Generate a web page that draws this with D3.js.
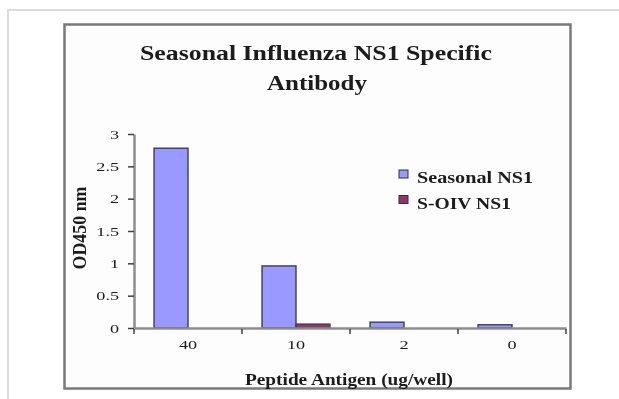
<!DOCTYPE html>
<html>
<head>
<meta charset="utf-8">
<script src="https://cdn.jsdelivr.net/npm/d3@7"></script>
<style>
  html, body { margin: 0; padding: 0; background: #ffffff; }
  svg { display: block; }
  text { font-family: "Liberation Serif", "Times New Roman", serif; fill: #1a1a1a; }
</style>
</head>
<body>
<svg id="chart" width="619" height="399"></svg>
<script>
// Chart data
const categories = ["40", "10", "2", "0"];
const seriesNames = ["Seasonal NS1", "S-OIV NS1"];
const seasonalValues = [2.78, 0.96, 0.09, 0.05];
const soivValues = [0, 0.06, 0, 0];
const yTickValues = [0, 0.5, 1, 1.5, 2, 2.5, 3];
const titleLines = ["Seasonal Influenza NS1 Specific", "Antibody"];
const xTitle = "Peptide Antigen (ug/well)";
const yTitle = "OD450 nm";

const seriesColors = { "Seasonal NS1": "#9999ff", "S-OIV NS1": "#993366" };
const valuesBySeries = { "Seasonal NS1": seasonalValues, "S-OIV NS1": soivValues };

const svg = d3.select("#chart");

const defs = svg.append("defs");
defs.append("filter").attr("id", "soft")
  .attr("x", "-5%").attr("y", "-5%").attr("width", "110%").attr("height", "110%")
  .append("feGaussianBlur").attr("stdDeviation", 0.7);

const root = svg.append("g").attr("filter", "url(#soft)");

// outer light border (open to the right and bottom)
root.append("path")
  .attr("d", "M8,399 V10 H619")
  .attr("fill", "none").attr("stroke", "#dcdcdc").attr("stroke-width", 2);

// chart area frame
root.append("rect")
  .attr("x", 64.5).attr("y", 24.5).attr("width", 506).attr("height", 364)
  .attr("fill", "#fdfdfd").attr("stroke", "#7a7a7a").attr("stroke-width", 2.5);

// scales
const plot = { left: 134, right: 566, top: 134, bottom: 328 };
const x0 = d3.scaleBand().domain(categories).range([plot.left, plot.right]).padding(0);
const x1 = d3.scaleBand().domain(seriesNames).range([0, x0.bandwidth()])
  .paddingInner(0).paddingOuter(0.59);
const y = d3.scaleLinear().domain([0, 3]).range([plot.bottom, plot.top]);

// bars
const rows = categories.map((c, i) => ({
  cat: c,
  vals: seriesNames.map(s => ({ s, v: valuesBySeries[s][i] }))
}));
const groups = root.append("g").selectAll("g").data(rows).join("g")
  .attr("transform", d => `translate(${x0(d.cat)},0)`);
groups.selectAll("rect").data(d => d.vals.filter(e => e.v > 0)).join("rect")
  .attr("x", d => x1(d.s))
  .attr("y", d => y(d.v))
  .attr("width", x1.bandwidth())
  .attr("height", d => y(0) - y(d.v))
  .attr("fill", d => seriesColors[d.s])
  .attr("stroke", "#3c3c5c").attr("stroke-width", 1.4);

// y axis
const yAxis = root.append("g").attr("transform", `translate(${plot.left},0)`)
  .call(d3.axisLeft(y).tickValues(yTickValues).tickSize(6).tickSizeOuter(0)
    .tickPadding(9).tickFormat(d3.format("~g")));
yAxis.select(".domain").attr("stroke", "#8c8c8c").attr("stroke-width", 2.5);
yAxis.selectAll(".tick line").attr("stroke", "#404040").attr("stroke-width", 1.5);
yAxis.selectAll(".tick text")
  .attr("font-size", 13).attr("fill", "#333")
  .attr("transform", function () {
    const tx = +d3.select(this).attr("x");
    return `translate(${tx},0) scale(1.4,1) translate(${-tx},0)`;
  });

// x axis: labels at category centres, tick marks at category boundaries
const xAxis = root.append("g").attr("transform", `translate(0,${plot.bottom})`)
  .call(d3.axisBottom(x0).tickSize(0).tickPadding(12));
xAxis.select(".domain").attr("stroke", "#8c8c8c").attr("stroke-width", 2.5);
xAxis.selectAll(".tick text")
  .attr("font-size", 13).attr("fill", "#333")
  .attr("transform", "scale(1.4,1)");
const bounds = categories.map(c => x0(c)).concat([x0(categories[categories.length - 1]) + x0.bandwidth()]);
xAxis.selectAll("line.bound").data(bounds).join("line")
  .attr("class", "bound")
  .attr("x1", d => d).attr("x2", d => d)
  .attr("y1", 1).attr("y2", 6)
  .attr("stroke", "#404040").attr("stroke-width", 1.5);

// titles
const title = root.append("g");
title.append("text")
  .attr("x", 316).attr("y", 60).attr("text-anchor", "middle")
  .attr("font-size", 20).attr("font-weight", "bold")
  .attr("textLength", 352).attr("lengthAdjust", "spacingAndGlyphs")
  .text(titleLines[0]);
title.append("text")
  .attr("x", 317).attr("y", 90).attr("text-anchor", "middle")
  .attr("font-size", 20).attr("font-weight", "bold")
  .attr("textLength", 100).attr("lengthAdjust", "spacingAndGlyphs")
  .text(titleLines[1]);

root.append("text")
  .attr("x", 349).attr("y", 385).attr("text-anchor", "middle")
  .attr("font-size", 16).attr("font-weight", "bold")
  .attr("textLength", 208).attr("lengthAdjust", "spacingAndGlyphs")
  .text(xTitle);

root.append("text")
  .attr("transform", "translate(86,228) rotate(-90) scale(1,1.25)")
  .attr("x", 0).attr("y", 0).attr("text-anchor", "middle")
  .attr("font-size", 15).attr("font-weight", "bold")
  .attr("textLength", 83).attr("lengthAdjust", "spacingAndGlyphs")
  .text(yTitle);

// legend
const legendWidths = [116, 94];
const legend = root.append("g").selectAll("g").data(seriesNames).join("g")
  .attr("transform", (d, i) => `translate(399,${170 + i * 25.5})`);
legend.append("rect")
  .attr("width", 9).attr("height", 8)
  .attr("fill", d => seriesColors[d])
  .attr("stroke", "#303040").attr("stroke-width", 1);
legend.append("text")
  .attr("x", 18).attr("y", 13)
  .attr("font-size", 17).attr("font-weight", "bold")
  .attr("textLength", (d, i) => legendWidths[i]).attr("lengthAdjust", "spacingAndGlyphs")
  .text(d => d);
</script>
</body>
</html>
